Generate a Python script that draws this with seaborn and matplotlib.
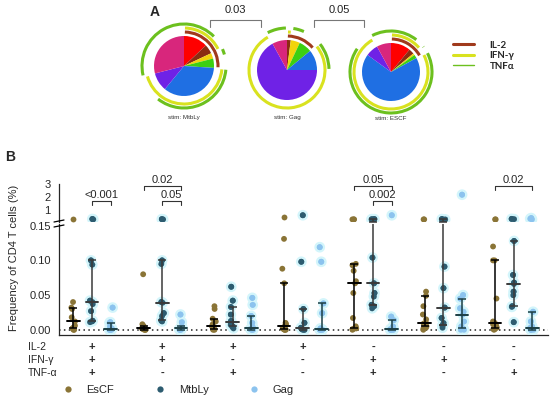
import matplotlib
matplotlib.use("Agg")
import matplotlib.pyplot as plt
from matplotlib.patches import Arc
from matplotlib.lines import Line2D
from matplotlib import transforms
import matplotlib.patheffects as pe
import numpy as np
import pandas as pd
import seaborn as sns

sns.set_style("white")
plt.rcParams['font.family'] = ['Liberation Sans', 'DejaVu Sans']

W, H = 550, 398

# ---- panel B data: frequency of CD4 T cells (%) per donor ----
combos = ['+++', '++-', '+-+', '+--', '-++', '-+-', '--+']
il2 = ['+', '+', '+', '+', '-', '-', '-']
ifng = ['+', '+', '-', '-', '+', '+', '-']
tnfa = ['+', '-', '+', '-', '+', '-', '+']
stims = ['EsCF', 'MtbLy', 'Gag']

escf = [
    [0.0, 0.0, 0.002, 0.003, 0.006, 0.012, 0.018, 0.03, 0.032, 0.04, 0.3],
    [0.0, 0.0, 0.0, 0.001, 0.001, 0.002, 0.003, 0.005, 0.006, 0.008, 0.08],
    [0.0, 0.0, 0.001, 0.002, 0.003, 0.005, 0.008, 0.012, 0.016, 0.03, 0.034],
    [0.0, 0.0, 0.0, 0.001, 0.002, 0.002, 0.003, 0.005, 0.006, 0.008, 0.01, 0.067, 0.088, 0.131, 0.46],
    [0.0, 0.001, 0.002, 0.002, 0.005, 0.017, 0.053, 0.067, 0.07, 0.085, 0.093, 0.095, 0.3, 0.3, 0.3],
    [0.0, 0.002, 0.003, 0.005, 0.006, 0.008, 0.009, 0.01, 0.015, 0.022, 0.034, 0.049, 0.055, 0.3, 0.3],
    [0.0, 0.001, 0.001, 0.003, 0.005, 0.006, 0.008, 0.01, 0.012, 0.045, 0.1, 0.1, 0.12, 0.3, 0.3],
]
mtbly = [
    [0.011, 0.012, 0.013, 0.027, 0.037, 0.040, 0.042, 0.094, 0.1, 0.3, 0.33],
    [0.012, 0.013, 0.014, 0.02, 0.024, 0.039, 0.04, 0.095, 0.1, 0.3, 0.32],
    [0.002, 0.004, 0.005, 0.007, 0.01, 0.011, 0.013, 0.022, 0.033, 0.042, 0.062],
    [0.0, 0.0, 0.0, 0.001, 0.001, 0.002, 0.003, 0.01, 0.03, 0.098, 0.62],
    [0.031, 0.034, 0.036, 0.048, 0.053, 0.067, 0.104, 0.3, 0.3, 0.32, 0.32],
    [0.003, 0.006, 0.007, 0.01, 0.017, 0.032, 0.06, 0.091, 0.3, 0.31, 0.32],
    [0.011, 0.033, 0.034, 0.05, 0.055, 0.066, 0.068, 0.079, 0.128, 0.32, 0.34],
]
gag = [
    [0.0, 0.0, 0.0, 0.0, 0.0, 0.001, 0.002, 0.005, 0.01, 0.011, 0.032],
    [0.0, 0.0, 0.0, 0.001, 0.001, 0.002, 0.003, 0.004, 0.005, 0.011, 0.022],
    [0.0, 0.0, 0.0, 0.001, 0.001, 0.002, 0.004, 0.01, 0.02, 0.036, 0.046],
    [0.0, 0.0, 0.0, 0.0, 0.0, 0.001, 0.002, 0.024, 0.038, 0.098, 0.119],
    [0.0, 0.0, 0.0, 0.0, 0.0, 0.001, 0.002, 0.005, 0.014, 0.019, 0.62],
    [0.0, 0.0, 0.002, 0.005, 0.012, 0.022, 0.026, 0.031, 0.045, 0.05, 2.2],
    [0.0, 0.0, 0.0, 0.0, 0.001, 0.001, 0.002, 0.002, 0.003, 0.005, 0.012, 0.026, 0.3, 0.35, 0.4],
]

# p-value brackets: group index, pair, label, level
sig_groups = [0, 1, 1, 4, 4, 6]
sig_pairs = [('MtbLy', 'Gag'), ('EsCF', 'Gag'), ('MtbLy', 'Gag'),
             ('EsCF', 'Gag'), ('MtbLy', 'Gag'), ('EsCF', 'Gag')]
sig_labels = ['<0.001', '0.02', '0.05', '0.05', '0.002', '0.02']
sig_levels = [0, 1, 0, 1, 0, 1]

# ---- panel A data: pie fractions (same 7 combos) ----
pie_names = ['stim: MtbLy', 'stim: Gag', 'stim: ESCF']
pie_mtbly = [0.13, 0.05, 0.03, 0.05, 0.35, 0.10, 0.29]
pie_gag = [0.0, 0.02, 0.05, 0.07, 0.11, 0.67, 0.08]
pie_escf = [0.11, 0.03, 0.01, 0.02, 0.68, 0.07, 0.08]
pie_pvals = ['0.03', '0.05']
pie_colors = ['#ff0000', '#8b2d12', '#f2d40c', '#3ccf12', '#1f6fe3', '#6f22e6', '#d8267c']
arc_names = ['IL-2', 'IFN-γ', 'TNFα']
arc_colors = ['#a03a1c', '#d9e21f', '#6cc01e']

palette = {'EsCF': '#8a7436', 'MtbLy': '#2d5c70', 'Gag': '#8cc3ee'}
bar_colors = {'EsCF': 'black', 'MtbLy': '#3a3a3a', 'Gag': '#1d3f45'}

BREAK = 0.155   # values above this go to the upper segment


def px(x, y, w, h):
    return [x / W, 1 - (y + h) / H, w / W, h / H]


fig = plt.figure(figsize=(W / 100, H / 100), dpi=100)

# ================= panel A =================
ax_pie = fig.add_axes(px(140, 0, 300, 128))
centers = [(184, H - 66), (287, H - 70), (391, H - 72)]
radii = [30, 30, 29]
flags = [il2, ifng, tnfa]
for fr, name, c, r in zip([pie_mtbly, pie_gag, pie_escf], pie_names, centers, radii):
    ax_pie.pie(fr, colors=pie_colors, startangle=90, counterclock=False,
               center=c, radius=r, wedgeprops=dict(linewidth=0))
    cum = np.concatenate([[0], np.cumsum(fr)]) * 360
    for k, (fl, col) in enumerate(zip(flags, arc_colors)):
        # contiguous runs of positive slices, wrapping around 12 o'clock
        runs = []
        for i in range(len(fr)):
            if fl[i] != '+' or fr[i] == 0:
                continue
            if runs and abs(runs[-1][1] - cum[i]) < 1e-6:
                runs[-1][1] = cum[i + 1]
            else:
                runs.append([cum[i], cum[i + 1]])
        if len(runs) > 1 and runs[0][0] == 0 and abs(runs[-1][1] - 360) < 1e-6:
            last = runs.pop()
            runs[0] = [last[0] - 360, runs[0][1]]
        R = r + 4 + 4 * k
        for s, e in runs:
            ax_pie.add_patch(Arc(c, 2 * R, 2 * R, theta1=90 - e + 1.5, theta2=90 - s - 1.5,
                                 color=col, lw=2.2))
    ax_pie.text(c[0], H - 118, name, ha='center', va='center', fontsize=4.5, color='#333')

for i, p in enumerate(pie_pvals):
    xm = (centers[i][0] + centers[i + 1][0]) / 2
    ax_pie.plot([xm - 25, xm - 25, xm + 25, xm + 25], [H - 27, H - 20, H - 20, H - 27],
                color='#777', lw=0.8)
    ax_pie.text(xm, H - 10, p, ha='center', va='center', fontsize=8, color='#222')
ax_pie.set_xlim(140, 440)
ax_pie.set_ylim(H - 128, H)
ax_pie.set_aspect('equal', adjustable='box')
ax_pie.axis('off')

fig.text(155 / W, 1 - 12 / H, 'A', fontsize=10, fontweight='bold', ha='center', va='center')
leg_handles = [Line2D([], [], color=c, lw=w) for c, w in zip(arc_colors, [2.2, 2.2, 1.0])]
fig.legend(leg_handles, arc_names, loc='upper left', bbox_to_anchor=(444 / W, 1 - 32 / H),
           frameon=False, handlelength=2.2, labelspacing=0.15, handletextpad=1.6,
           prop={'family': 'Lato', 'weight': 'bold', 'size': 7})

# ================= panel B =================
rows = []
for g, combo in enumerate(combos):
    for stim, vals in zip(stims, [escf, mtbly, gag]):
        for v in vals[g]:
            rows.append((combo, stim, v))
df = pd.DataFrame(rows, columns=['combo', 'stim', 'freq'])

ax_lo = fig.add_axes(px(59, 223.6, 489, 111.4))
ax_hi = fig.add_axes(px(59, 183.65, 489, 38.35))

np.random.seed(3)
offsets = dict(zip(stims, [-0.8 / 3, 0, 0.8 / 3]))
for ax, sub in ((ax_lo, df[df.freq <= BREAK]), (ax_hi, df[df.freq > BREAK])):
    sns.stripplot(data=sub, x='combo', y='freq', hue='stim', order=combos, hue_order=stims,
                  palette=palette, dodge=True, jitter=0.09, size=4.2, linewidth=0,
                  ax=ax, legend=False, zorder=3)
    for coll in ax.collections:
        fc = coll.get_facecolor()
        if len(fc) and not np.allclose(fc[0][:3], matplotlib.colors.to_rgb(palette['EsCF'])):
            coll.set_path_effects([pe.withStroke(linewidth=3.5, foreground='#d3f5fb'), pe.Normal()])
    ax.set_xlim(-0.47, 6.49)
    ax.set_xlabel('')
    ax.set_ylabel('')
    sns.despine(ax=ax)

# median with interquartile range
for g in range(len(combos)):
    for stim, vals in zip(stims, [escf, mtbly, gag]):
        q1, med, q3 = np.percentile(vals[g], [25, 50, 75], method='weibull')
        x = g + offsets[stim]
        c = bar_colors[stim]
        ax_lo.errorbar(x, med, yerr=[[med - q1], [min(q3, 0.2) - med]], fmt='none', ecolor=c,
                       elinewidth=1.1, capsize=3 if q3 <= BREAK else 0, capthick=1.1, zorder=4)
        if q1 <= BREAK and q3 > BREAK:
            ax_lo.errorbar(x, q1, yerr=[[0], [0]], fmt='none', ecolor=c,
                           elinewidth=1.1, capsize=3, capthick=1.1, zorder=4)
        ax_lo.plot([x - 0.09, x + 0.09], [med, med], color=c, lw=1.4, zorder=4)
        if q3 > BREAK:
            ax_hi.errorbar(x, q3, yerr=[[q3 - 0.1], [0]], fmt='none', ecolor=c,
                           elinewidth=1.1, capsize=3, capthick=1.1, zorder=4)

ax_lo.axhline(0, color='#222', lw=1.1, ls=(0, (1, 2.2)), zorder=1)
ax_lo.set_ylim(-0.0075, 0.153)
ax_lo.set_yticks([0, 0.05, 0.10, 0.15])
ax_lo.set_yticklabels([f'{v:.2f}' for v in [0, 0.05, 0.10, 0.15]])
ax_lo.set_xticks(range(len(combos)))
ax_lo.set_xticklabels([])
ax_lo.tick_params(axis='both', direction='out', length=4, width=0.9, labelsize=8, pad=2)

ax_hi.set_ylim(0.1, 3.05)
ax_hi.set_yticks([1, 2, 3])
ax_hi.set_xticks([])
ax_hi.spines['bottom'].set_visible(False)
ax_hi.tick_params(axis='y', direction='out', length=4, width=0.9, labelsize=8, pad=2)
for ax in (ax_lo, ax_hi):
    for s in ax.spines.values():
        s.set_linewidth(0.9)

# break marks on the y axis
for yb in (221, 226):
    fig.add_artist(Line2D([54 / W, 64 / W], [1 - (yb + 1) / H, 1 - (yb - 1) / H],
                          color='k', lw=0.9))

# p-value brackets
lev_y = [1.72, 2.87]
for g, pair, lab, lev in zip(sig_groups, sig_pairs, sig_labels, sig_levels):
    x0 = g + offsets[pair[0]]
    x1 = g + offsets[pair[1]]
    y = lev_y[lev]
    ax_hi.plot([x0, x0, x1, x1], [y - 0.3, y, y, y - 0.3], color='#333', lw=0.8, clip_on=False)
    ax_hi.text((x0 + x1) / 2, y + 0.1, lab, ha='center', va='bottom', fontsize=8, clip_on=False)

fig.text(14 / W, 1 - 258 / H, 'Frequency of CD4 T cells (%)', rotation=90,
         ha='center', va='center', fontsize=8)
fig.text(10 / W, 1 - 157 / H, 'B', fontsize=10, fontweight='bold', ha='center', va='center')

# cytokine table under the axis
trans = transforms.blended_transform_factory(ax_lo.transData, fig.transFigure)
for lab, fl, yp in zip(['IL-2', 'IFN-γ', 'TNF-α'], [il2, ifng, tnfa], [347, 360, 373]):
    fig.text(28 / W, 1 - yp / H, lab, fontsize=7.5, va='center', ha='left')
    for g, f in enumerate(fl):
        ax_lo.text(g, 1 - yp / H, f, transform=trans, ha='center', va='center',
                   fontsize=8, fontweight='bold')

handles = [Line2D([], [], ls='none', marker='o', ms=4.5, mfc=palette[s], mec='none') for s in stims]
fig.legend(handles, stims, loc='center left', bbox_to_anchor=(52 / W, 1 - 390 / H), ncol=3,
           frameon=False, fontsize=8, handletextpad=1.2, columnspacing=3.6, handlelength=1)

fig.savefig('out.png', dpi=100)
